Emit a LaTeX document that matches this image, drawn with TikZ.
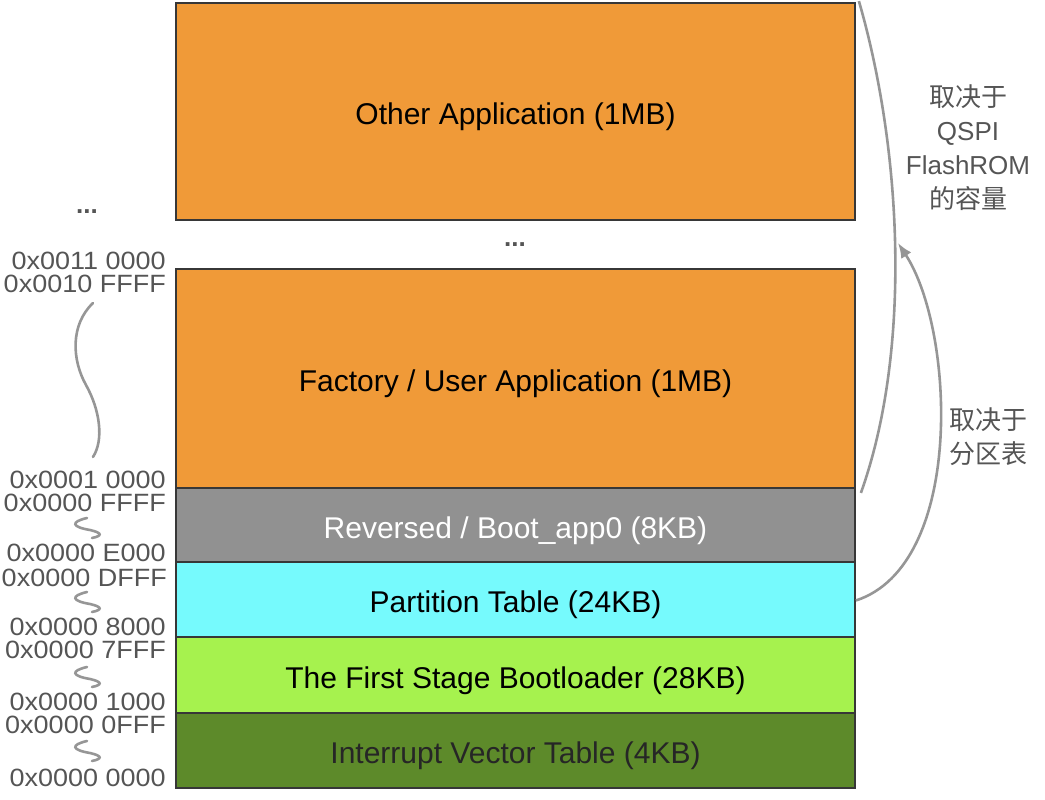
\documentclass[tikz,border=0pt]{standalone}
\usepackage{fontspec}
\setmainfont{Liberation Sans}
\newfontfamily\cjk{Noto Sans CJK SC}
\newfontfamily\addrfont{Liberation Sans}[FakeStretch=1.08]
\usetikzlibrary{arrows.meta}
\definecolor{orng}{RGB}{240,154,56}
\definecolor{gbox}{RGB}{145,145,145}
\definecolor{cyanb}{RGB}{118,250,253}
\definecolor{lgreen}{RGB}{166,242,78}
\definecolor{dgreen}{RGB}{93,138,42}
\definecolor{edge}{RGB}{55,55,55}
\definecolor{lbl}{RGB}{85,85,85}
\definecolor{conn}{RGB}{150,150,150}
\tikzset{
  membox/.style={draw=edge, line width=1.8pt, minimum width=679pt, inner sep=0pt,
    font=\fontsize{30}{34}\selectfont, text=black, text height=26pt, text depth=0pt},
  addr/.style={anchor=east, inner sep=0pt, text=lbl, font=\addrfont\fontsize{25}{28}\selectfont,
    text height=18pt, text depth=0pt},
  squig/.style={draw=conn, line width=2.6pt, line cap=round},
  connline/.style={draw=conn, line width=2.6pt},
  note/.style={align=center, text=lbl, inner sep=0pt, font=\fontsize{26}{34}\selectfont},
  dots/.style={text=lbl, inner sep=0pt, font=\bfseries\fontsize{26}{28}\selectfont}
}
\begin{document}
\begin{tikzpicture}[x=1pt,y=-1pt]
\useasboundingbox (0,0) rectangle (1045,800);
% memory boxes
\node[membox, fill=orng, minimum height=217pt] (other) at (515.5,111.5) {Other Application (1MB)};
\node[membox, fill=orng, minimum height=219pt] (factory) at (515.5,378.5) {Factory / User Application (1MB)};
\node[membox, fill=gbox, minimum height=74pt, text=white] (boot) at (515.5,525) {Reversed / Boot\_app0 (8KB)};
\node[membox, fill=cyanb, minimum height=75pt] (part) at (515.5,599.5) {Partition Table (24KB)};
\node[membox, fill=lgreen, minimum height=76pt] (fsb) at (515.5,675) {The First Stage Bootloader (28KB)};
\node[membox, fill=dgreen, minimum height=75pt, text=black!85] (ivt) at (515.5,750.5) {Interrupt Vector Table (4KB)};
% dots
\node[dots] (dmid) at (515,245) {...};
\node[dots] (dleft) at (87,212) {...};
% address labels
\node[addr] (a1) at (166,260) {0x0011 0000};
\node[addr] (a2) at (166,283) {0x0010 FFFF};
\node[addr] (a3) at (166,479) {0x0001 0000};
\node[addr] (a4) at (166,502) {0x0000 FFFF};
\node[addr] (a5) at (166,552) {0x0000 E000};
\node[addr] (a6) at (167,577) {0x0000 DFFF};
\node[addr] (a7) at (166,626) {0x0000 8000};
\node[addr] (a8) at (166,649) {0x0000 7FFF};
\node[addr] (a9) at (166,701) {0x0000 1000};
\node[addr] (a10) at (166,724) {0x0000 0FFF};
\node[addr] (a11) at (166,777) {0x0000 0000};
% squiggles
\draw[squig] (93,303) .. controls (70,325) and (72,360) .. (86,385) .. controls (100,410) and (104,440) .. (93,457);
\foreach \yy in {518,592,667,741}{
  \draw[squig] (87,\yy) .. controls (70,\yy+4) and (72,\yy+9) .. (90,\yy+12)
     .. controls (103,\yy+15) and (102,\yy+18) .. (92,\yy+20);
}
% right notes
\node[note] (n1) at (968,148) {{\cjk 取决于}\\QSPI\\FlashROM\\{\cjk 的容量}};
\node[note] (n2) at (988,437) {{\cjk 取决于}\\{\cjk 分区表}};
% connectors
\coordinate (tip) at (898,243);
\draw[connline] ([xshift=3pt,yshift=1pt]other.north east) .. controls (902,150) and (912,350) .. ([xshift=5pt,yshift=-4pt]factory.south east);
\draw[connline, -{Latex[length=15pt,width=12pt]}] ([xshift=0pt,yshift=-1pt]part.east) .. controls (965,565) and (955,330) .. (tip);
\end{tikzpicture}
\end{document}
